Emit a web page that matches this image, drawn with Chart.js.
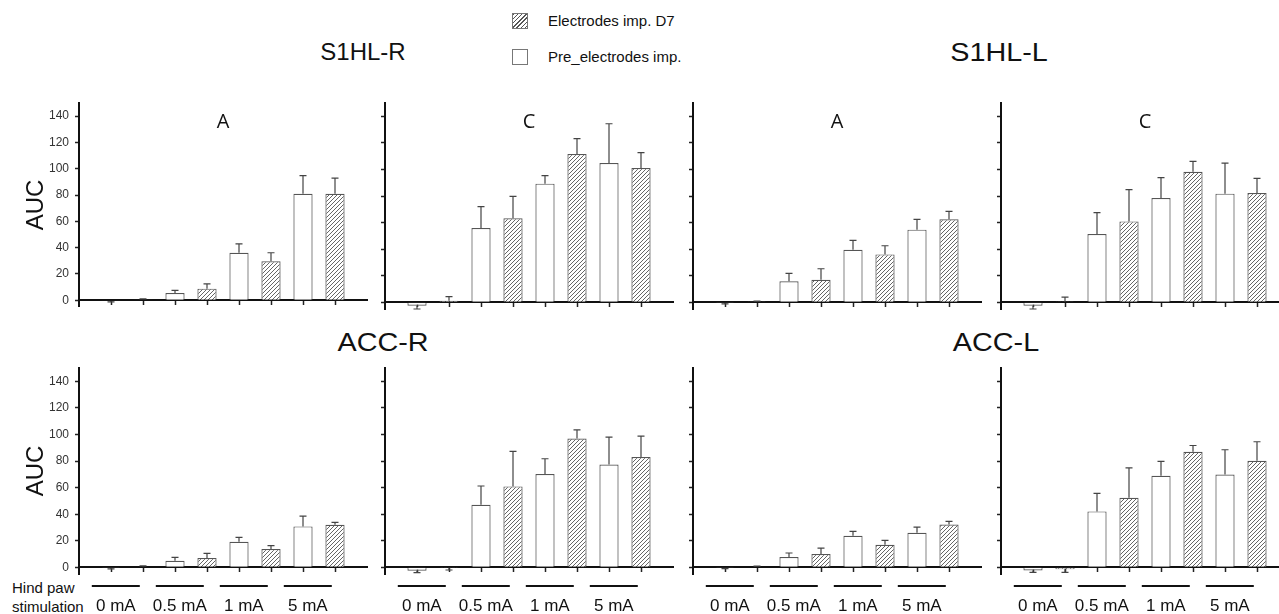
<!DOCTYPE html>
<html>
<head>
<meta charset="utf-8">
<script src="https://cdn.jsdelivr.net/npm/chart.js@4.4.1/dist/chart.umd.min.js"></script>
<style>
  html, body { margin: 0; padding: 0; background: #fff; overflow: hidden; }
  #page { position: relative; width: 1279px; height: 614px; overflow: hidden;
          font-family: 'Liberation Sans', Arial, sans-serif; color: #111; }
  #page canvas { position: absolute; }
  .title { position: absolute; font-size: 24px; line-height: 1; white-space: nowrap;
           transform: translate(-50%, -50%); }
  .title.wide { font-size: 25px; transform: translate(-50%, -50%) scaleX(1.15); }
  .legend-row { position: absolute; left: 512px; display: flex; align-items: center;
                font-size: 15px; white-space: nowrap; }
  .swatch { width: 14px; height: 14px; border: 1px solid #777; margin-right: 20px; background: #fff; }
  .swatch.hatch { background: repeating-linear-gradient(135deg, #555 0 1px, #fff 1px 3px); }
  .side { position: absolute; left: 12px; font-size: 15px; line-height: 1; white-space: nowrap;
          transform: translateY(-50%); }
</style>
</head>
<body>
<div id="page">
  <div class="legend-row" style="top:12px"><div class="swatch hatch"></div>Electrodes imp. D7</div>
  <div class="legend-row" style="top:48px"><div class="swatch"></div>Pre_electrodes imp.</div>
  <div class="title" style="left:363px;top:52px">S1HL-R</div>
  <div class="title wide" style="left:999px;top:52px">S1HL-L</div>
  <div class="title wide" style="left:383px;top:342px">ACC-R</div>
  <div class="title wide" style="left:996px;top:342px">ACC-L</div>
  <div class="side" style="top:587px">Hind paw</div>
  <div class="side" style="top:606px">stimulation</div>
</div>
<script>
// stimulation groups, series, y ticks
const groups = ['0 mA', '0.5 mA', '1 mA', '5 mA']
const seriesNames = ['Pre_electrodes imp.', 'Electrodes imp. D7']
const yTicks = [0, 20, 40, 60, 80, 100, 120, 140]

// S1HL-R, A
const s1hlRA_pre = [-0.5, 5.5, 36.1, 81]
const s1hlRA_preErr = [0.8, 2, 6.8, 13.8]
const s1hlRA_d7 = [0.5, 8.8, 29.6, 81]
const s1hlRA_d7Err = [0.6, 3.7, 6.5, 11.8]
// S1HL-R, C
const s1hlRC_pre = [-2.5, 55.9, 89.3, 104.8]
const s1hlRC_preErr = [2.5, 16.1, 6, 29.6]
const s1hlRC_d7 = [1.3, 63.2, 111.6, 101]
const s1hlRC_d7Err = [3, 16.6, 11.6, 11.6]
// S1HL-L, A
const s1hlLA_pre = [-0.5, 15.8, 39.6, 54.7]
const s1hlLA_preErr = [0.6, 6, 7.1, 7.8]
const s1hlLA_d7 = [0.3, 17, 36.1, 62.5]
const s1hlLA_d7Err = [0.7, 8.3, 6.5, 6]
// S1HL-L, C
const s1hlLC_pre = [-2.5, 51.4, 78.5, 81.8]
const s1hlLC_preErr = [2.5, 16.1, 15.3, 23]
const s1hlLC_d7 = [0.3, 60.9, 98.3, 82.3]
const s1hlLC_d7Err = [3.7, 23.9, 7.8, 11]
// ACC-R, A
const accRA_pre = [-0.5, 5, 19.3, 30.8]
const accRA_preErr = [0.6, 2.5, 3.3, 7.8]
const accRA_d7 = [0.5, 7, 13.8, 32.1]
const accRA_d7Err = [0.6, 3.5, 2.5, 1.7]
// ACC-R, C
const accRC_pre = [-2.5, 47.1, 70.2, 77.4]
const accRC_preErr = [1.5, 14.1, 11.5, 20.6]
const accRC_d7 = [-0.5, 60.9, 97, 83]
const accRC_d7Err = [1.5, 26.3, 6.5, 15.7]
// ACC-L, A
const accLA_pre = [-0.5, 7.8, 23.8, 26]
const accLA_preErr = [0.5, 3, 3.3, 4.3]
const accLA_d7 = [0.5, 10, 17, 32.3]
const accLA_d7Err = [0.5, 4.5, 3.3, 2.3]
// ACC-L, C
const accLC_pre = [-2.3, 42.1, 68.9, 69.9]
const accLC_preErr = [1.5, 13.5, 10.8, 18.6]
const accLC_d7 = [-1.5, 52.4, 87, 80.2]
const accLC_d7Err = [2.3, 22.5, 4.7, 14.3]

const panels = [
  { row: 0, col: 0, letter: 'A', pre: s1hlRA_pre, preErr: s1hlRA_preErr, d7: s1hlRA_d7, d7Err: s1hlRA_d7Err },
  { row: 0, col: 1, letter: 'C', pre: s1hlRC_pre, preErr: s1hlRC_preErr, d7: s1hlRC_d7, d7Err: s1hlRC_d7Err },
  { row: 0, col: 2, letter: 'A', pre: s1hlLA_pre, preErr: s1hlLA_preErr, d7: s1hlLA_d7, d7Err: s1hlLA_d7Err },
  { row: 0, col: 3, letter: 'C', pre: s1hlLC_pre, preErr: s1hlLC_preErr, d7: s1hlLC_d7, d7Err: s1hlLC_d7Err },
  { row: 1, col: 0, letter: '', pre: accRA_pre, preErr: accRA_preErr, d7: accRA_d7, d7Err: accRA_d7Err },
  { row: 1, col: 1, letter: '', pre: accRC_pre, preErr: accRC_preErr, d7: accRC_d7, d7Err: accRC_d7Err },
  { row: 1, col: 2, letter: '', pre: accLA_pre, preErr: accLA_preErr, d7: accLA_d7, d7Err: accLA_d7Err },
  { row: 1, col: 3, letter: '', pre: accLC_pre, preErr: accLC_preErr, d7: accLC_d7, d7Err: accLC_d7Err },
]

// page layout (pixels)
const COLS = [{ left: 0, axis: 79 }, { left: 375, axis: 385 }, { left: 683, axis: 693 }, { left: 991, axis: 1001 }]
const ROWS = [{ top: 80, height: 240, padTop: 23, padBottom: 11 }, { top: 340, height: 274, padTop: 28, padBottom: 40 }]
const PLOT_W = 288
const FONT = "'Liberation Sans', Arial, sans-serif"

Chart.defaults.font.family = FONT
Chart.defaults.color = '#333'

function makeHatch(ctx) {
  const tile = document.createElement('canvas')
  tile.width = 4
  tile.height = 4
  const g = tile.getContext('2d')
  g.fillStyle = '#fff'
  g.fillRect(0, 0, 4, 4)
  g.strokeStyle = '#555'
  g.lineWidth = 0.9
  g.beginPath()
  g.moveTo(0, 4); g.lineTo(4, 0)
  g.moveTo(-1, 1); g.lineTo(1, -1)
  g.moveTo(3, 5); g.lineTo(5, 3)
  g.stroke()
  return ctx.createPattern(tile, 'repeat')
}

// SEM whiskers, drawn in the direction of the bar
const errorBars = {
  id: 'errorBars',
  afterDatasetsDraw(chart) {
    const { ctx, scales: { y } } = chart
    ctx.save()
    ctx.strokeStyle = '#444'
    ctx.lineWidth = 1.2
    chart.data.datasets.forEach((ds, di) => {
      const meta = chart.getDatasetMeta(di)
      meta.data.forEach((bar, i) => {
        const v = ds.data[i].y
        const e = ds.errors[i]
        const end = y.getPixelForValue(v + (v < 0 ? -e : e))
        const start = y.getPixelForValue(v)
        ctx.beginPath()
        ctx.moveTo(bar.x, start)
        ctx.lineTo(bar.x, end)
        ctx.moveTo(bar.x - 3.5, end)
        ctx.lineTo(bar.x + 3.5, end)
        ctx.stroke()
      })
    })
    ctx.restore()
  }
}

// panel letter inside the plot, and the stimulation groups under the bottom row
const panelText = {
  id: 'panelText',
  afterDraw(chart, args, opts) {
    const { ctx, chartArea, scales: { x } } = chart
    ctx.save()
    ctx.fillStyle = '#111'
    ctx.textAlign = 'center'
    ctx.textBaseline = 'middle'
    if (opts.letter) {
      ctx.font = "20px 'Open Sans', sans-serif"
      ctx.fillText(opts.letter, chartArea.left + chartArea.width / 2, chartArea.top + 19)
    }
    if (opts.groups) {
      ctx.strokeStyle = '#111'
      ctx.lineWidth = 2
      ctx.font = '17px ' + FONT
      groups.forEach((g, k) => {
        const x0 = x.getPixelForValue(2 * k + 0.4)
        const x1 = x.getPixelForValue(2 * k + 1.9)
        const ly = chartArea.bottom + 12
        ctx.beginPath()
        ctx.moveTo(x0, ly)
        ctx.lineTo(x1, ly)
        ctx.stroke()
        ctx.fillText(g, (x0 + x1) / 2, chartArea.bottom + 32)
      })
    }
    ctx.restore()
  }
}

function renderPanel(p) {
  const col = COLS[p.col]
  const row = ROWS[p.row]
  const yw = col.axis - col.left
  const canvas = document.createElement('canvas')
  canvas.width = yw + PLOT_W + 6
  canvas.height = row.height
  canvas.style.left = col.left + 'px'
  canvas.style.top = row.top + 'px'
  canvas.style.width = canvas.width + 'px'
  canvas.style.height = canvas.height + 'px'
  document.getElementById('page').appendChild(canvas)
  const ctx = canvas.getContext('2d')
  const hatch = makeHatch(ctx)
  const first = p.col === 0

  return new Chart(ctx, {
    type: 'bar',
    data: {
      datasets: [
        {
          label: seriesNames[0],
          data: p.pre.map((v, k) => ({ x: 2 * k + 1, y: v })),
          errors: p.preErr,
          backgroundColor: '#fff',
          borderColor: '#555',
          borderWidth: 1.2,
        },
        {
          label: seriesNames[1],
          data: p.d7.map((v, k) => ({ x: 2 * k + 2, y: v })),
          errors: p.d7Err,
          backgroundColor: hatch,
          borderColor: '#555',
          borderWidth: 1.2,
        },
      ],
    },
    options: {
      responsive: false,
      animation: false,
      events: [],
      grouped: false,
      barPercentage: 0.6,
      categoryPercentage: 1,
      layout: { padding: { top: row.padTop, bottom: row.padBottom, left: 0, right: 6 } },
      scales: {
        x: {
          type: 'linear',
          min: 0,
          max: 9,
          offset: false,
          position: { y: 0 },
          z: 1,
          ticks: { display: false, stepSize: 1 },
          afterBuildTicks: (s) => { s.ticks = s.ticks.filter((t) => t.value >= 1 && t.value <= 8) },
          grid: { offset: false, drawOnChartArea: false, drawTicks: true, tickLength: 4, tickColor: '#222', tickWidth: 1.5 },
          border: { display: true, color: '#111', width: 2 },
        },
        y: {
          min: -5,
          max: 150,
          afterBuildTicks: (s) => { s.ticks = yTicks.map((v) => ({ value: v })) },
          afterFit: (s) => { s.width = yw },
          ticks: { display: first, padding: 6, color: '#333', font: { size: 12 } },
          grid: { drawOnChartArea: false, drawTicks: true, tickLength: 4, tickColor: '#222', tickWidth: 1.5 },
          border: { display: true, color: '#111', width: 2 },
          title: {
            display: first,
            text: 'AUC',
            color: '#111',
            font: { size: 24 },
            padding: { top: 22, bottom: 0 },
          },
        },
      },
      plugins: {
        legend: { display: false },
        tooltip: { enabled: false },
        panelText: { letter: p.letter, groups: p.row === 1 },
      },
    },
    plugins: [errorBars, panelText],
  })
}

panels.forEach(renderPanel)
</script>
</body>
</html>
